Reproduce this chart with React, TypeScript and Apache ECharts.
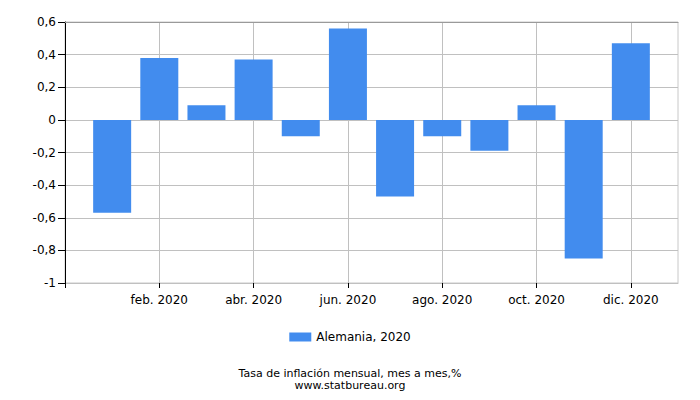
import * as echarts from 'echarts';
import type { EChartsOption } from 'echarts'
import { useEffect, useRef } from 'react'

// meses 2020, etiquetas del eje x
const months = ['ene. 2020', 'feb. 2020', 'mar. 2020', 'abr. 2020', 'may. 2020', 'jun. 2020',
  'jul. 2020', 'ago. 2020', 'sep. 2020', 'oct. 2020', 'nov. 2020', 'dic. 2020']
const inflation = [-0.57, 0.38, 0.09, 0.37, -0.1, 0.56, -0.47, -0.1, -0.19, 0.09, -0.85, 0.47]
const xTicks = [0, 2, 4, 6, 8, 10, 12]
const seriesName = 'Alemania, 2020'
const font = 'DejaVu Sans'

const App = () => {
  const chartRef = useRef<HTMLDivElement | null>(null)
  useEffect(() => {
    document.body.style.margin = '0'
    if (!chartRef.current) return
    const myChart = echarts.init(chartRef.current, null, { renderer: 'svg' })
    const option: EChartsOption = {
      animation: false,
      textStyle: { fontFamily: font },
      grid: { left: 65, right: 22, top: 22, bottom: 117, show: true, borderColor: '#c8c8c8', borderWidth: 1 },
      title: {
        text: 'Tasa de inflación mensual, mes a mes,%',
        subtext: 'www.statbureau.org',
        left: 'center',
        top: 363,
        itemGap: 1,
        textStyle: { fontSize: 11, fontWeight: 'normal', color: '#000', fontFamily: font },
        subtextStyle: { fontSize: 11, color: '#000', fontFamily: font },
      },
      legend: {
        bottom: 52,
        left: 'center',
        icon: 'rect',
        itemWidth: 22,
        itemHeight: 9,
        itemGap: 4,
        textStyle: { fontSize: 12, color: '#000', fontFamily: font },
        data: [seriesName],
      },
      xAxis: [
        {
          type: 'value',
          min: 0,
          max: 13,
          interval: 2,
          axisLine: { show: true, onZero: false, lineStyle: { color: '#c0c0c0' } },
          axisTick: { show: true, length: 5, lineStyle: { color: '#000' }, customValues: xTicks },
          axisLabel: {
            margin: 11,
            fontSize: 12,
            color: '#000',
            fontFamily: font,
            customValues: xTicks.slice(1),
            formatter: (v: number) => months[Math.round(v) - 1] ?? '',
          },
          splitLine: { show: true, lineStyle: { color: '#c0c0c0' } },
        },
        {
          type: 'value',
          position: 'top',
          min: 0,
          max: 13,
          axisLine: { show: true, onZero: false, lineStyle: { color: '#9a9a9a' } },
          axisTick: { show: false },
          axisLabel: { show: false },
          splitLine: { show: false },
        },
      ],
      yAxis: {
        type: 'value',
        min: -1,
        max: 0.6,
        interval: 0.2,
        axisLine: { show: true, onZero: false, lineStyle: { color: '#000' } },
        axisTick: { show: true, length: 7, lineStyle: { color: '#000' } },
        axisLabel: {
          margin: 9,
          fontSize: 12,
          color: '#000',
          fontFamily: font,
          formatter: (v: number) => {
            const r = Math.round(v * 10) / 10
            return r === 0 ? '0' : String(r).replace('.', ',')
          },
        },
        splitLine: { show: true, lineStyle: { color: '#c0c0c0' } },
      },
      series: [
        {
          name: seriesName,
          type: 'bar',
          barWidth: 38,
          itemStyle: { color: '#428cee' },
          data: inflation.map((v, i) => [i + 1, v]),
        },
      ],
    }
    myChart.setOption(option)
    return () => {
      myChart.dispose()
    }
  }, [])
  return <div ref={chartRef} style={{ width: '700px', height: '400px' }}></div>
}
export default App
